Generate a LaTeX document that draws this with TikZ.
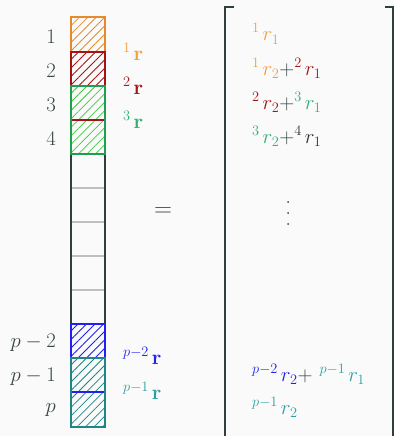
\documentclass[tikz,border=0pt]{standalone}
\usetikzlibrary{patterns.meta}
\definecolor{bg}{HTML}{FAFAFA}
\definecolor{ink}{HTML}{3A4646}
\definecolor{colline}{HTML}{2F3F3F}
\definecolor{cOr}{HTML}{E68A2E}
\definecolor{tOr}{HTML}{F0A040}
\definecolor{cRd}{HTML}{A31515}
\definecolor{cGr}{HTML}{1E9E50}
\definecolor{hGr}{HTML}{3CCC3C}
\definecolor{tGr}{HTML}{2EB070}
\definecolor{cBl}{HTML}{2020F0}
\definecolor{cTl}{HTML}{1F8585}
\definecolor{tTl}{HTML}{2AA0A0}
\newcommand{\pre}[1]{\raisebox{8pt}{$\scriptstyle #1$}\mkern3mu}
\begin{document}
\begin{tikzpicture}[x=1pt,y=-1pt,font=\fontsize{20}{24}\selectfont,
  hatch/.style={pattern={Lines[angle=45,distance=6pt,line width=0.8pt]},pattern color=#1},
  box/.style={draw=#1,line width=1.8pt},
  rowlab/.style={anchor=east,text=ink,inner sep=0pt},
  rlab/.style={anchor=base west,inner sep=0pt},
  entry/.style={anchor=base west,inner sep=0pt}]
\fill[bg] (0,0) rectangle (394,436);
\useasboundingbox (0,0) rectangle (394,436);
% column
\foreach \y in {188,222,256,290}{\draw[gray!50,line width=1.2pt] (71,\y) -- (105,\y);}
\draw[colline,line width=1.8pt] (71,17) -- (71,427) (105,17) -- (105,427);
% patterns
\fill[hatch=cOr] (71,17) rectangle (105,52);
\fill[hatch=cRd] (71,52) rectangle (105,86);
\fill[hatch=hGr] (71,86) rectangle (105,154);
\fill[hatch=cBl] (71,324) rectangle (105,358);
\fill[hatch=cTl] (71,358) rectangle (105,427);
% outlines
\draw[box=cOr] (71,17) rectangle (105,86);
\draw[box=cRd] (71,52) rectangle (105,120);
\draw[box=cGr] (71,86) rectangle (105,154);
\draw[box=cBl] (71,324) rectangle (105,392);
\draw[box=cTl] (71,358) rectangle (105,427);
% row labels
\node[rowlab] (l1) at (56,37) {$1$};
\node[rowlab] (l2) at (56,71) {$2$};
\node[rowlab] (l3) at (56,105) {$3$};
\node[rowlab] (l4) at (56,139) {$4$};
\node[rowlab] (lp2) at (56,343) {$p-2$};
\node[rowlab] (lp1) at (56,377) {$p-1$};
\node[rowlab] (lp) at (56,410) {$p$};
% r labels
\node[rlab,text=tOr] (r1) at (123,60) {$\pre{1}\mathbf{r}$};
\node[rlab,text=cRd] (r2) at (123,94) {$\pre{2}\mathbf{r}$};
\node[rlab,text=tGr] (r3) at (123,128) {$\pre{3}\mathbf{r}$};
\node[rlab,text=cBl] (rp2) at (123,364) {$\pre{p-2}\mathbf{r}$};
\node[rlab,text=tTl] (rp1) at (123,399) {$\pre{p-1}\mathbf{r}$};
% equals
\node[text=ink,font=\fontsize{30}{34}\selectfont] (eq) at (163,212) {$=$};
% bracket
\draw[colline,line width=2.5pt] (234,7) -- (225,7) -- (225,440);
\draw[colline,line width=2.5pt] (385,7) -- (393,7) -- (393,440);
% entries
\node[entry] (e1) at (252,41) {$\color{tOr}\pre{1}r_{1}$};
\node[entry] (e2) at (252,75) {$\color{tOr}\pre{1}r_{2}\color{ink}{+}\color{cRd}\pre{2}r_{1}$};
\node[entry] (e3) at (252,109) {$\color{cRd}\pre{2}r_{2}\color{ink}{+}\color{tGr}\pre{3}r_{1}$};
\node[entry] (e4) at (252,143) {$\color{tGr}\pre{3}r_{2}\color{ink}{+}\color{black!80}\pre{4}r_{1}$};
\foreach \y in {202,213,224}{\fill[ink] (288,\y) circle (1pt);}
\node[entry] (e5) at (252,381) {$\color{cBl}\pre{p-2}r_{2}\color{ink}{+}\mkern6mu\color{tTl}\pre{p-1}r_{1}$};
\node[entry] (e6) at (252,414) {$\color{tTl}\pre{p-1}r_{2}$};
\end{tikzpicture}
\end{document}
